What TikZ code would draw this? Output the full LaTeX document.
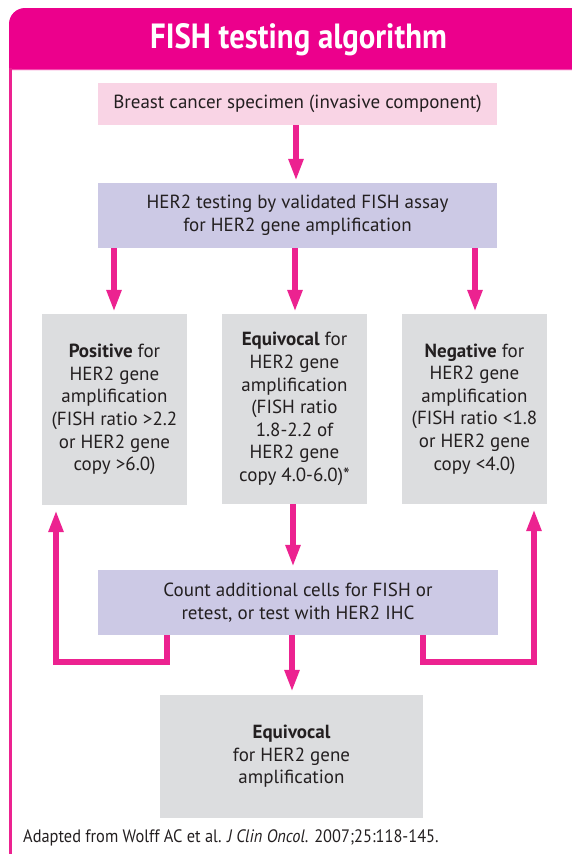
\documentclass[tikz,border=0pt]{standalone}
\usepackage{fontspec}
\setmainfont{PT Sans}
\newfontfamily\titlefont[FakeStretch=0.88]{PT Sans}
\newfontfamily\condfont[FakeStretch=0.91]{PT Sans}
\usetikzlibrary{arrows.meta}
\definecolor{hdr}{HTML}{EC008C}
\definecolor{arrc}{HTML}{EC2290}
\definecolor{pinkbox}{HTML}{F9D4E5}
\definecolor{lavbox}{HTML}{CCC9E5}
\definecolor{graybox}{HTML}{DCDDDF}
\definecolor{txt}{HTML}{231F20}
\tikzset{
  box/.style={inner sep=0pt, align=center, text=txt, font=\fontsize{19}{22.6}\selectfont},
  pinkb/.style={box, fill=pinkbox},
  lavb/.style={box, fill=lavbox},
  grayb/.style={box, fill=graybox},
  arr/.style={draw=arrc, line width=5.5pt, -{Triangle[length=22pt,width=14pt]}},
  loopline/.style={arr, line join=miter}
}
\begin{document}
\begin{tikzpicture}[x=1pt,y=-1pt]
\useasboundingbox (0,0) rectangle (572,854);
\clip (0,0) rectangle (572,854);
% frame
\fill[hdr] (9,70) -- (9,24) arc[start angle=180,end angle=270,radius=16] -- (600,8) -- (600,70) -- cycle;
\draw[hdr!70!white, line width=1.5pt] (10,69.5) -- (600,69.5);
\draw[arrc, line width=2.8pt] (10.7,68) -- (10.7,860);
\node[text=white, font=\titlefont\bfseries\fontsize{35}{38}\selectfont] (title) at (298.5,40) {FISH testing algorithm};
% boxes
\node[pinkb, minimum width=399pt, minimum height=42pt] (b1) at (297.5,104) {Breast cancer specimen (invasive component)};
\node[lavb, minimum width=399pt, minimum height=65pt] (b2) at (297.5,215.5) {HER2 testing by validated FISH assay\\for HER2 gene amplification};
\node[grayb, minimum width=145pt, minimum height=191pt] (pos) at (114.5,409.5) {\textbf{Positive} for\\HER2 gene\\amplification\\(FISH ratio >2.2\\or HER2 gene\\copy >6.0)};
\node[grayb, minimum width=145pt, minimum height=190pt] (eqv) at (294.5,409) {\textbf{Equivocal} for\\HER2 gene\\amplification\\(FISH ratio\\1.8-2.2 of\\HER2 gene\\copy 4.0-6.0)*};
\node[grayb, minimum width=145pt, minimum height=190pt] (neg) at (474.5,409) {\textbf{Negative} for\\HER2 gene\\amplification\\(FISH ratio <1.8\\or HER2 gene\\copy <4.0)};
\node[lavb, minimum width=400pt, minimum height=65pt] (cnt) at (298,602.5) {Count additional cells for FISH or\\retest, or test with HER2 IHC};
\node[grayb, minimum width=263pt, minimum height=123pt] (fin) at (291.5,756.5) {\textbf{Equivocal}\\for HER2 gene\\amplification};
\node[anchor=west, inner sep=0pt, text=txt, font=\condfont\fontsize{18}{20}\selectfont] (foot) at (23,838) {Adapted from Wolff AC et al. \textit{J Clin Oncol}. 2007;25:118-145.};
% arrows
\draw[arr, shorten >=2pt] (b1.south -| 296,0) -- (b2.north -| 296,0);
\coordinate (xl) at (114,0);
\coordinate (xm) at (295,0);
\coordinate (xr) at (475,0);
\draw[arr, shorten >=2pt] (b2.south -| xl) -- (pos.north -| xl);
\draw[arr, shorten >=2pt] (b2.south -| xm) -- (eqv.north -| xm);
\draw[arr, shorten >=2pt] (b2.south -| xr) -- (neg.north -| xr);
\draw[arr, shorten >=3pt] (eqv.south -| 293,0) -- (cnt.north -| 293,0);
\draw[arr, shorten >=3pt] (cnt.south -| 292,0) -- (fin.north -| 292,0);
\coordinate (L1) at (167,662);
\coordinate (L2) at (56,662);
\coordinate (R1) at (423,662);
\coordinate (R2) at (534,662);
\draw[loopline, shorten >=5pt] (cnt.south -| L1) -- (L1) -- (L2) -- (pos.south -| L2);
\draw[loopline, shorten >=5pt] (cnt.south -| R1) -- (R1) -- (R2) -- (neg.south -| R2);
\end{tikzpicture}
\end{document}
